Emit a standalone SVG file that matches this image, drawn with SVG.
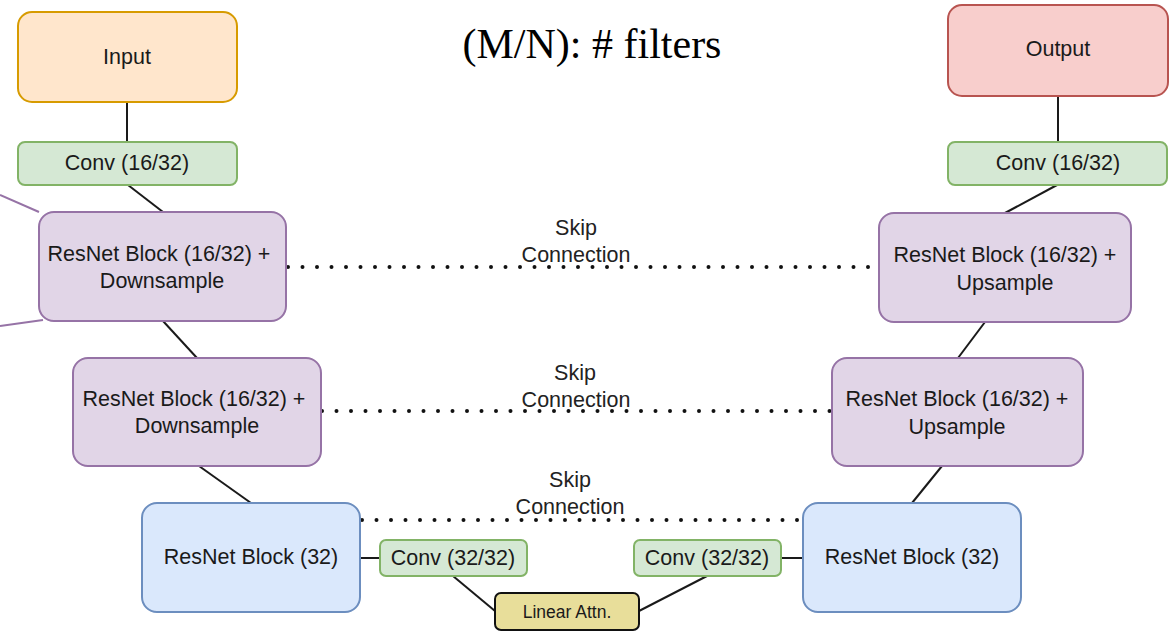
<svg xmlns="http://www.w3.org/2000/svg" width="1175" height="632" viewBox="0 0 1175 632">
<style>
.t{font-family:"Liberation Sans",Arial,sans-serif;font-size:21.5px;fill:#1a1a1a;text-anchor:middle}
.s{font-family:"Liberation Sans",Arial,sans-serif;font-size:21.5px;fill:#222;text-anchor:middle}
.in{fill:#ffe6cc;stroke:#d79b00;stroke-width:2}
.out{fill:#f8cecc;stroke:#b85450;stroke-width:2}
.g{fill:#d5e8d4;stroke:#82b366;stroke-width:2}
.p{fill:#e1d5e7;stroke:#9673a6;stroke-width:2}
.b{fill:#dae8fc;stroke:#6c8ebf;stroke-width:2}
.y{fill:#e8de9a;stroke:#111;stroke-width:2}
.c{stroke:#1a1a1a;stroke-width:2;fill:none}
.d{stroke:#111;stroke-width:4;stroke-dasharray:0 14.5;stroke-linecap:round;fill:none}
.pl{stroke:#9673a6;stroke-width:2;fill:none}
</style>
<rect width="1175" height="632" fill="#fff"/>
<text x="592" y="58" font-family="'Liberation Serif','Times New Roman',serif" font-size="42" fill="#000" text-anchor="middle">(M/N): # filters</text>
<g id="connectors">
<line class="c" x1="127" y1="102" x2="127" y2="142"/>
<line class="c" x1="128" y1="185" x2="163" y2="212"/>
<line class="c" x1="163" y1="321" x2="197" y2="358"/>
<line class="c" x1="199" y1="466" x2="251" y2="503"/>
<line class="c" x1="360" y1="558" x2="380" y2="558"/>
<line class="c" x1="453" y1="576" x2="495" y2="611"/>
<line class="c" x1="707" y1="576" x2="639" y2="611"/>
<line class="c" x1="781" y1="558" x2="803" y2="558"/>
<line class="c" x1="912" y1="503" x2="942" y2="466"/>
<line class="c" x1="958" y1="358" x2="985" y2="322"/>
<line class="c" x1="1005" y1="213" x2="1057" y2="185"/>
<line class="c" x1="1058" y1="96" x2="1058" y2="142"/>
<line class="pl" x1="0" y1="195" x2="39" y2="212"/>
<line class="pl" x1="0" y1="326" x2="43" y2="320"/>
<line class="d" x1="288" y1="267" x2="872" y2="267"/>
<line class="d" x1="322" y1="411" x2="830" y2="411"/>
<line class="d" x1="362" y1="520" x2="803" y2="520"/>
<text class="s" x="576" y="235">Skip</text>
<text class="s" x="576" y="262">Connection</text>
<text class="s" x="575" y="380">Skip</text>
<text class="s" x="576" y="407">Connection</text>
<text class="s" x="570" y="487">Skip</text>
<text class="s" x="570" y="514">Connection</text>
</g>
<g id="input"><rect class="in" x="18" y="12" width="219" height="90" rx="14"/><text class="t" x="127" y="64">Input</text></g>
<g id="conv-in"><rect class="g" x="18" y="142" width="219" height="43" rx="7"/><text class="t" x="127" y="170">Conv (16/32)</text></g>
<g id="down1"><rect class="p" x="39" y="212" width="247" height="109" rx="15"/><text class="t" x="159" y="261">ResNet Block (16/32) +</text><text class="t" x="162" y="288">Downsample</text></g>
<g id="down2"><rect class="p" x="73" y="358" width="248" height="108" rx="15"/><text class="t" x="194" y="406">ResNet Block (16/32) +</text><text class="t" x="197" y="433">Downsample</text></g>
<g id="res-left"><rect class="b" x="142" y="503" width="218" height="109" rx="15"/><text class="t" x="251" y="564">ResNet Block (32)</text></g>
<g id="conv-mid-left"><rect class="g" x="380" y="540" width="147" height="36" rx="6"/><text class="t" x="453" y="565">Conv (32/32)</text></g>
<g id="attn"><rect class="y" x="495" y="593" width="144" height="37" rx="6"/><text class="t" x="567" y="618" style="font-size:17.5px">Linear Attn.</text></g>
<g id="conv-mid-right"><rect class="g" x="634" y="540" width="147" height="36" rx="6"/><text class="t" x="707" y="565">Conv (32/32)</text></g>
<g id="res-right"><rect class="b" x="803" y="503" width="218" height="109" rx="15"/><text class="t" x="912" y="564">ResNet Block (32)</text></g>
<g id="up2"><rect class="p" x="832" y="358" width="251" height="108" rx="15"/><text class="t" x="957" y="406">ResNet Block (16/32) +</text><text class="t" x="957" y="434">Upsample</text></g>
<g id="up1"><rect class="p" x="879" y="213" width="252" height="109" rx="15"/><text class="t" x="1005" y="262">ResNet Block (16/32) +</text><text class="t" x="1005" y="290">Upsample</text></g>
<g id="conv-out"><rect class="g" x="948" y="142" width="219" height="43" rx="7"/><text class="t" x="1058" y="170">Conv (16/32)</text></g>
<g id="output"><rect class="out" x="948" y="5" width="220" height="91" rx="14"/><text class="t" x="1058" y="56">Output</text></g>
</svg>
